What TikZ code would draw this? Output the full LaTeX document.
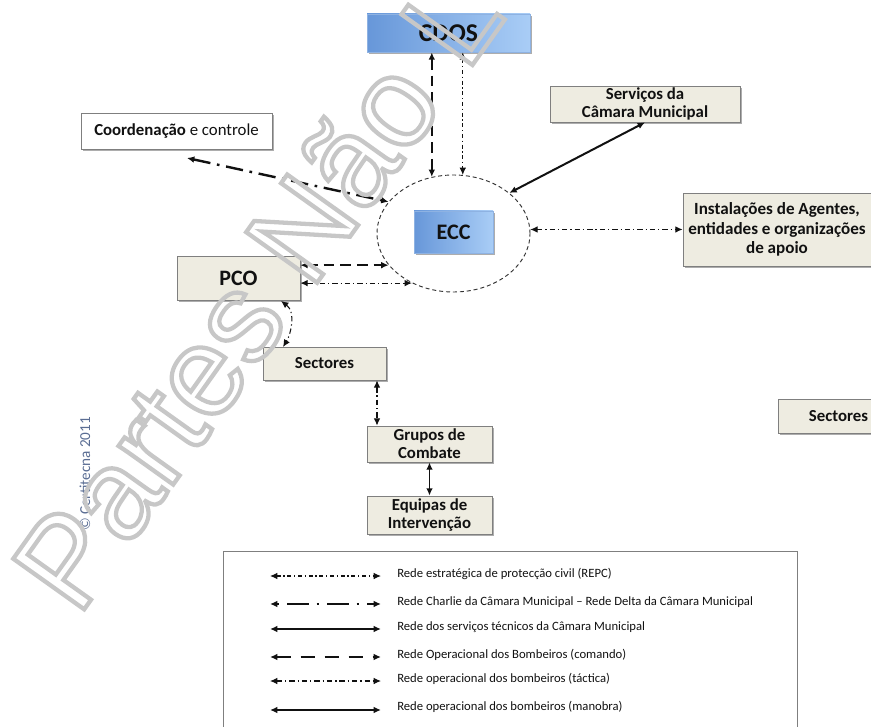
\documentclass[tikz,border=0pt]{standalone}
\usepackage{fontspec}
\setmainfont{Carlito}
\newfontfamily\wmfont{Liberation Sans}
\usetikzlibrary{arrows.meta,shapes.geometric,shadows}

\definecolor{beige}{HTML}{EEECE1}
\definecolor{boxline}{HTML}{7F7F7F}
\definecolor{blueD}{HTML}{6797D9}
\definecolor{blueL}{HTML}{A9CDF6}
\definecolor{blueline}{HTML}{8EB2E2}
\definecolor{ink}{HTML}{111111}
\definecolor{cpr}{HTML}{5A6D93}
\definecolor{ringline}{HTML}{333333}

\tikzset{
  shadowed/.style={drop shadow={shadow xshift=1.6pt,shadow yshift=-1.6pt,fill=black!32,opacity=1}},
  box/.style={shadowed, draw=boxline, line width=0.6pt, fill=beige, inner sep=0pt,
    align=center, text=ink, font=\bfseries\fontsize{12.6}{13.5}\selectfont},
  whitebox/.style={box, fill=white},
  bluebox/.style={shadowed, draw=blueline, line width=0.6pt, left color=blueD, right color=blueL,
    inner sep=0pt, text=ink},
  ring/.style={draw=ringline, ellipse, line width=0.7pt, dash pattern=on 3pt off 2.2pt, inner sep=0pt},
  link/.style={<->, >={Latex[length=5.5pt,width=5pt]}, draw=ink},
  cmd/.style={link, line width=1.9pt, dash pattern=on 8pt off 4.5pt},
  charlie/.style={link, line width=1.8pt, dash pattern=on 13pt off 5pt on 2pt off 5pt},
  tech/.style={link, line width=1.5pt},
  tact/.style={link, line width=0.8pt, dash pattern=on 4pt off 2.2pt on 1pt off 2.2pt},
  repc/.style={link, line width=0.8pt, dash pattern=on 3pt off 2pt on 1pt off 2pt},
  manobra/.style={link, line width=1.2pt},
  legtext/.style={anchor=west, inner sep=0pt, text=ink, font=\fontsize{9.5}{10}\selectfont},
}

\begin{document}
\begin{tikzpicture}[x=0.75pt,y=-0.75pt]
\useasboundingbox (0,0) rectangle (871,727);
\clip (0,0) rectangle (871,727);

% control centre ring and boxes
\node[ring, minimum width=114.75pt, minimum height=87.75pt] (ring) at (453.5,233.5) {};
\node[bluebox, minimum width=122.25pt, minimum height=28.5pt, font=\bfseries\fontsize{19.2}{20}\selectfont] (cdos) at (448.5,33) {CDOS};
\node[bluebox, minimum width=59.25pt, minimum height=31.5pt, font=\bfseries\fontsize{16.6}{18}\selectfont] (ecc) at (453.5,232) {ECC};

\node[whitebox, minimum width=143.25pt, minimum height=27pt] (coord) at (176.5,131)
  {Coordenação\mdseries\ e controle};
\node[box, minimum width=142.5pt, minimum height=27pt] (serv) at (645,104)
  {Serviços da\\Câmara Municipal};
\node[box, minimum width=141pt, minimum height=54.75pt, font=\bfseries\fontsize{12.8}{14.6}\selectfont] (inst) at (777,229.5)
  {Instalações de Agentes,\\entidades e organizações\\de apoio};
\node[box, minimum width=92.25pt, minimum height=33pt, font=\bfseries\fontsize{16.5}{18}\selectfont] (pco) at (238.5,278) {PCO};
\node[box, minimum width=92.25pt, minimum height=24.75pt] (sect) at (324.5,363.5) {Sectores};
\node[box, minimum width=93.75pt, minimum height=27pt] (grp) at (429.5,444) {Grupos de\\Combate};
\node[box, minimum width=93.75pt, minimum height=28.5pt] (eq) at (429.5,515) {Equipas de\\Intervenção};
\node[box, minimum width=90.75pt, minimum height=25.5pt] (sectb) at (838.5,416) {Sectores};

% free ends and guide points
\coordinate (cc) at (187,158);
\coordinate (ps1) at (281,301);
\coordinate (ps2) at (283,347);
\coordinate (gx) at (377,0);

% connectors
\draw[cmd] (cdos.south -| ring.111) -- (ring.111);
\draw[repc] (cdos.south -| ring.81) -- (ring.81);
\draw[tech] (serv.south) -- (ring.36);
\draw[charlie] (cc) -- (ring.154);
\draw[tact] (ring.3) -- (inst.west |- ring.3);
\draw[cmd] (pco.east |- ring.206) -- (ring.206);
\draw[tact] (pco.east |- ring.230) -- (ring.230);
\draw[tact] (ps1) .. controls (296,312) and (291,334) .. (ps2);
\draw[tact] (sect.south -| gx) -- (grp.north -| gx);
\draw[manobra] (grp.south) -- (eq.north);

% legend
\node[draw=boxline, line width=0.6pt, minimum width=430.5pt, minimum height=156pt, inner sep=0pt] (legend) at (510,655) {};
\foreach \k/\yy in {1/576,2/604,3/629,4/657,5/681,6/710}{
  \coordinate (la\k) at (270,\yy);
  \coordinate (lb\k) at (381,\yy);
}
\draw[repc] (la1) -- (lb1);
\draw[charlie, dash pattern=on 2pt off 6pt on 16pt off 6pt] (la2) -- (lb2);
\draw[tech] (la3) -- (lb3);
\draw[cmd, dash pattern=on 11pt off 7pt] (la4) -- (lb4);
\draw[tact] (la5) -- (lb5);
\draw[manobra] (la6) -- (lb6);
\node[legtext] (t1) at (397,574) {Rede estratégica de protecção civil (REPC)};
\node[legtext] (t2) at (397,602) {Rede Charlie da Câmara Municipal – Rede Delta da Câmara Municipal};
\node[legtext] (t3) at (397,627) {Rede dos serviços técnicos da Câmara Municipal};
\node[legtext] (t4) at (397,655) {Rede Operacional dos Bombeiros (comando)};
\node[legtext] (t5) at (397,679) {Rede operacional dos bombeiros (táctica)};
\node[legtext] (t6) at (397,707) {Rede operacional dos bombeiros (manobra)};

% copyright line
\node[rotate=90, text=cpr, inner sep=0pt, font=\fontsize{11.4}{12}\selectfont] (copy) at (85,474) {© Certitecna 2011};

% outlined watermark
\node[rotate=54.5, anchor=base west, inner sep=0pt, font=\wmfont\fontsize{95}{98}\selectfont] (wm) at (78,618)
  {\special{pdf:literal direct 1 Tr 3.2 w 0.78 0.78 0.78 RG}Partes Não L\special{pdf:literal direct 0 Tr}};
\end{tikzpicture}
\end{document}
